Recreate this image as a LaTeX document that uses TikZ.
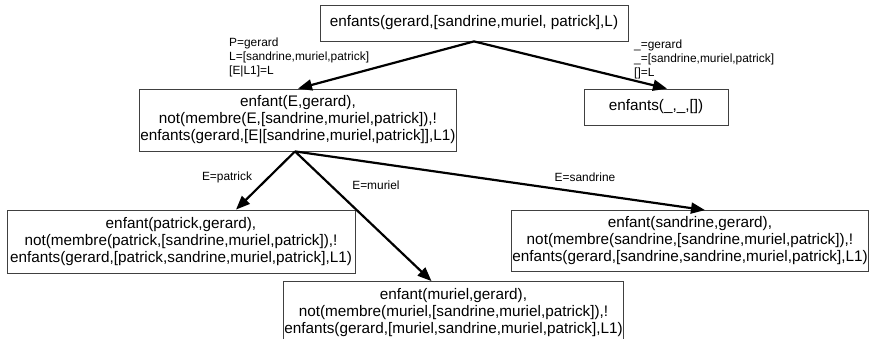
\documentclass[tikz,border=0pt]{standalone}
\usepackage{fontspec}
\setmainfont{Liberation Sans}
\usetikzlibrary{arrows.meta}

\begin{document}
\begin{tikzpicture}[x=1pt, y=-1pt, >={Triangle[length=14pt, width=11pt]},
    goal/.style={draw=black!75, line width=0.8pt, align=center, inner sep=1pt,
        font=\fontsize{15.3}{17}\selectfont},
    unif/.style={align=left, inner sep=0pt, font=\fontsize{11.9}{14}\selectfont},
    branch/.style={->, line width=2.2pt}]
    \useasboundingbox (0,0) rectangle (871,338);

    % ========== Root goal ==========
    \node[goal, minimum width=308pt, minimum height=36pt] (root) at (474,23)
        {enfants(gerard,[sandrine,muriel, patrick],L)};

    % ========== First level ==========
    \node[goal, minimum width=313pt, minimum height=62pt] (ebox) at (298,120)
        {enfant(E,gerard),\\not(membre(E,[sandrine,muriel,patrick]),!\\enfants(gerard,[E|[sandrine,muriel,patrick]],L1)};
    \node[goal, minimum width=144pt, minimum height=36pt] (rbox) at (656,107)
        {enfants(\_,\_,[])};

    % Unifiers
    \node[unif, anchor=west] (lunif) at (229,57)
        {P=gerard\\L=[sandrine,muriel,patrick]\\{}[E|L1]=L};
    \node[unif, anchor=west] (runif) at (634,59)
        {\_=gerard\\\_=[sandrine,muriel,patrick]\\{}[]=L};

    \draw[branch] (root.south) -- (ebox.north);
    \draw[branch] (root.south) -- ([xshift=11pt]rbox.north);

    % ========== Second level ==========
    \node[goal, minimum width=348pt, minimum height=63pt] (pbox) at (181,241.5)
        {enfant(patrick,gerard),\\not(membre(patrick,[sandrine,muriel,patrick]),!\\enfants(gerard,[patrick,sandrine,muriel,patrick],L1)};
    \node[goal, minimum width=352pt, minimum height=61pt] (sbox) at (690,241)
        {enfant(sandrine,gerard),\\not(membre(sandrine,[sandrine,muriel,patrick]),!\\enfants(gerard,[sandrine,sandrine,muriel,patrick],L1)};
    \node[goal, minimum width=337pt, minimum height=63pt] (mbox) at (453.5,313)
        {enfant(muriel,gerard),\\not(membre(muriel,[sandrine,muriel,patrick]),!\\enfants(gerard,[muriel,sandrine,muriel,patrick],L1)};

    % Branch labels
    \node[unif] (lpat) at (227,177) {E=patrick};
    \node[unif] (lmur) at (376,185) {E=muriel};
    \node[unif] (lsan) at (585,177) {E=sandrine};

    \draw[branch] ([xshift=-3pt]ebox.south) -- ([xshift=55pt]pbox.north);
    \draw[branch] ([xshift=-3pt]ebox.south) -- ([xshift=-22pt]mbox.north);
    \draw[branch] ([xshift=-3pt]ebox.south) -- ([xshift=15pt]sbox.north);

\end{tikzpicture}
\end{document}
